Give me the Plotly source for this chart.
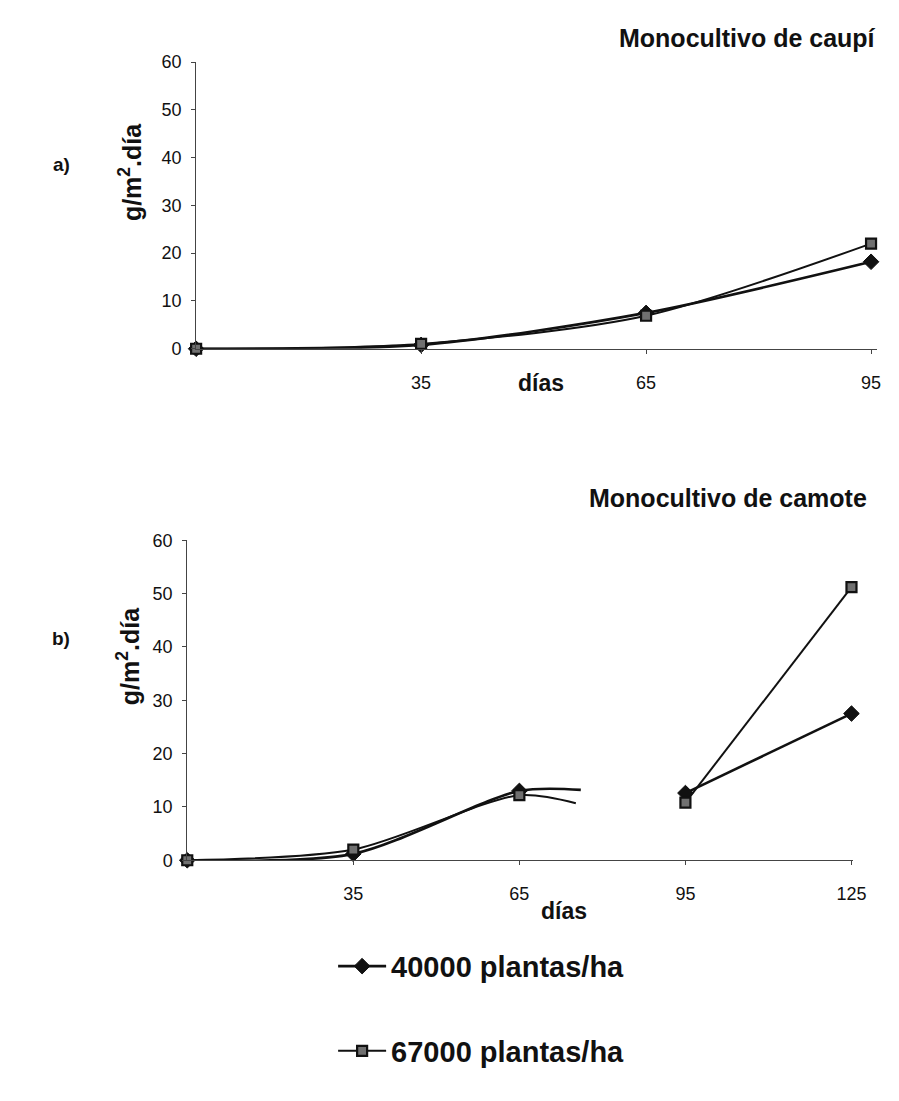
import plotly.graph_objects as go

# ---------------- data ----------------
# top chart: Monocultivo de caupí (category index 0..3 -> días 0,35,65,95)
top_ticklabels = ["35", "65", "95"]
top_tickpos = [1, 2, 3]
top_x = [0, 1, 2, 3]
top_40000 = [0.0, 0.8, 7.5, 18.2]
top_67000 = [0.0, 1.0, 6.9, 22.0]

# bottom chart: Monocultivo de camote (category index 0..4 -> días 0,35,65,95,125)
bot_ticklabels = ["35", "65", "95", "125"]
bot_tickpos = [1, 2, 3, 4]
# smoothed curve continues briefly past 65 d, then a gap, then 95 -> 125
bot_x_40000 = [0, 1, 2, 2.37, 2.7, 3, 4]
bot_40000 = [0.0, 1.2, 13.0, 13.2, None, 12.6, 27.5]
bot_x_67000 = [0, 1, 2, 2.34, 2.7, 3, 4]
bot_67000 = [0.0, 2.0, 12.2, 10.7, None, 10.8, 51.2]
bot_visible_40000 = [1, 1, 1, 0, 0, 1, 1]
bot_visible_67000 = [1, 1, 1, 0, 0, 1, 1]

series_names = ["40000 plantas/ha", "67000 plantas/ha"]

FONT = "Liberation Sans"
BLACK = "#111111"

fig = go.Figure()

diamond = dict(symbol="diamond", size=12, color=BLACK, line=dict(color=BLACK, width=1))
square = dict(symbol="square", size=10, color="#707070", line=dict(color=BLACK, width=2.2))

# top traces
fig.add_trace(go.Scatter(x=top_x, y=top_40000, mode="lines+markers", name=series_names[0],
                         line=dict(color=BLACK, width=2.6, shape="spline", smoothing=0.8),
                         marker=diamond, legendgroup="a", xaxis="x", yaxis="y", cliponaxis=False))
fig.add_trace(go.Scatter(x=top_x, y=top_67000, mode="lines+markers", name=series_names[1],
                         line=dict(color=BLACK, width=2.0, shape="spline", smoothing=0.8),
                         marker=square, legendgroup="b", xaxis="x", yaxis="y", cliponaxis=False))

# bottom traces
fig.add_trace(go.Scatter(x=bot_x_40000, y=bot_40000, mode="lines+markers", name=series_names[0],
                         line=dict(color=BLACK, width=2.6, shape="spline", smoothing=0.8),
                         marker=dict(diamond, opacity=bot_visible_40000), connectgaps=False,
                         showlegend=False, xaxis="x2", yaxis="y2", cliponaxis=False))
fig.add_trace(go.Scatter(x=bot_x_67000, y=bot_67000, mode="lines+markers", name=series_names[1],
                         line=dict(color=BLACK, width=2.0, shape="spline", smoothing=0.8),
                         marker=dict(square, opacity=bot_visible_67000), connectgaps=False,
                         showlegend=False, xaxis="x2", yaxis="y2", cliponaxis=False))

W, H = 899, 1101
def px_x(p):
    return p / W
def px_y(p):
    return 1 - p / H

tickfont = dict(family=FONT, size=18, color=BLACK)
axis_common = dict(showgrid=False, zeroline=False, showline=True, linecolor="#444444",
                   linewidth=1, ticks="outside", ticklen=4, tickcolor="#444444",
                   tickfont=tickfont)

fig.update_layout(
    width=W, height=H,
    margin=dict(l=0, r=0, t=0, b=0),
    paper_bgcolor="white", plot_bgcolor="white",
    font=dict(family=FONT, color=BLACK),
    xaxis=dict(axis_common, domain=[px_x(199), px_x(890)], range=[0, 3.027],
               tickvals=top_tickpos, ticktext=top_ticklabels, anchor="y",
               ticklabelstandoff=14),
    yaxis=dict(axis_common, domain=[px_y(345), px_y(53)], range=[0, 60],
               tickvals=[0, 10, 20, 30, 40, 50, 60], anchor="x", ticklabelstandoff=6),
    xaxis2=dict(axis_common, domain=[px_x(190), px_x(866)], range=[0, 4.012],
                tickvals=bot_tickpos, ticktext=bot_ticklabels, anchor="y2",
                ticklabelstandoff=13),
    yaxis2=dict(axis_common, domain=[px_y(866), px_y(540)], range=[0, 60],
                tickvals=[0, 10, 20, 30, 40, 50, 60], anchor="x2", ticklabelstandoff=6),
    legend=dict(x=px_x(338), y=px_y(948), xanchor="left", yanchor="top",
                font=dict(family=FONT, size=29, color=BLACK, weight="bold"),
                itemwidth=48, tracegroupgap=44, traceorder="grouped",
                bgcolor="rgba(0,0,0,0)"),
)

bold = lambda s: dict(family=FONT, size=s, color=BLACK, weight="bold")
annots = [
    dict(text="Monocultivo de caupí", x=px_x(891), y=px_y(29), xanchor="right", font=bold(25)),
    dict(text="Monocultivo de camote", x=px_x(882), y=px_y(497), xanchor="right", font=bold(25)),
    dict(text="a)", x=px_x(62), y=px_y(157), xanchor="center", font=bold(19)),
    dict(text="b)", x=px_x(62), y=px_y(640), xanchor="center", font=bold(19)),
    dict(text="g/m<sup>2</sup>.día", x=px_x(132), y=px_y(165), textangle=-90, font=bold(25)),
    dict(text="g/m<sup>2</sup>.día", x=px_x(130), y=px_y(658), textangle=-90, font=bold(25)),
    dict(text="días", x=px_x(549), y=px_y(380), font=bold(23)),
    dict(text="días", x=px_x(572), y=px_y(918), font=bold(23)),
]
for a in annots:
    a.update(xref="paper", yref="paper", showarrow=False, yanchor="middle")
    a.setdefault("xanchor", "center")
    fig.add_annotation(**a)

fig.write_html("out.html")
